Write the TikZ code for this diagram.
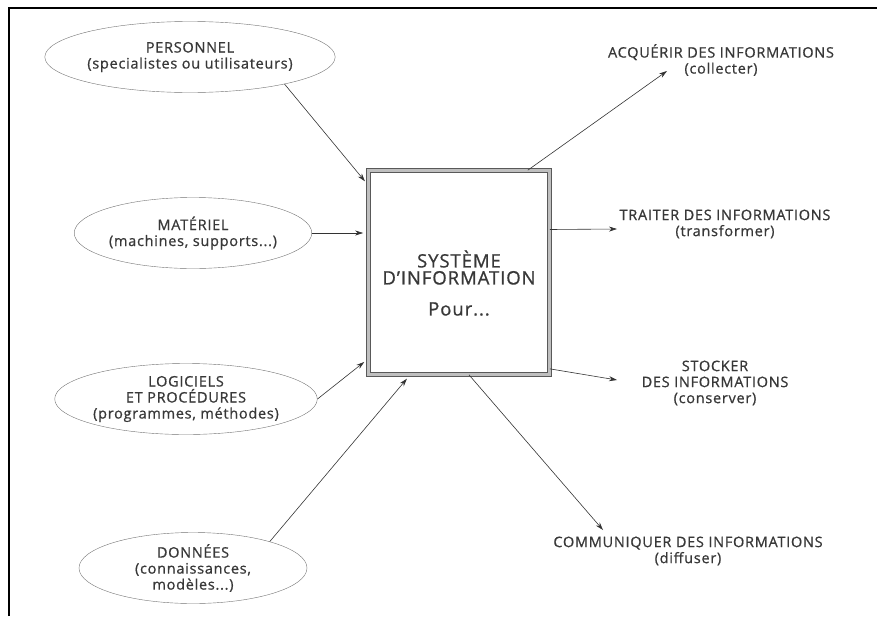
\documentclass[tikz,border=0pt]{standalone}
\usepackage{fontspec}
\setmainfont{Open Sans}[LetterSpace=5,FakeBold=0.8]
\usetikzlibrary{shapes.geometric,arrows.meta,calc}

\begin{document}
\begin{tikzpicture}
[x=1pt,y=-1pt,%
  every node/.style={align=center,text=black!78,font=\fontsize{14.5}{16}\selectfont},%
  ressource/.style={ellipse,draw=black!55,thin,minimum width=228pt,minimum height=71pt,inner sep=0pt},%
  systeme/.style={rectangle,draw=black!65,line width=0.7pt,double=black!25,double distance=3.5pt,%
    minimum width=181pt,minimum height=204pt,font=\fontsize{18.5}{17}\selectfont},%
  fonction/.style={inner sep=0pt},%
  entree/.style={-{Stealth[length=8pt,width=5pt]},draw=black!80,semithick,shorten >=5pt},%
  sortie/.style={-{Stealth[length=8pt,width=5pt]},draw=black!80,semithick}]
\useasboundingbox (0,0) rectangle (877,616);
\draw[line width=2.2pt] (9,616) -- (9,8) -- (877,8);

% ressources
\node[ressource] (personnel) at (190,57) {PERSONNEL\\(specialistes ou utilisateurs)};
\node[ressource] (materiel) at (193,233) {MATÉRIEL\\(machines, supports...)};
\node[ressource] (logiciels) at (186,399) {LOGICIELS\\ET PROCÉDURES\\(programmes, méthodes)};
\node[ressource] (donnees) at (193,568) {DONNÉES\\(connaissances,\\modèles...)};

% systeme
\node[systeme] (si) at (459,272.5) {\mbox{}\\[20pt]SYSTÈME\\D'INFORMATION\\[14pt]Pour...};

% fonctions
\node[fonction] (acquerir) at (721,60) {ACQUÉRIR DES INFORMATIONS\\(collecter)};
\node[fonction] (traiter) at (725,224) {TRAITER DES INFORMATIONS\\(transformer)};
\node[fonction] (stocker) at (715,383) {STOCKER\\DES INFORMATIONS\\(conserver)};
\node[fonction] (communiquer) at (688,551) {COMMUNIQUER DES INFORMATIONS\\(diffuser)};

\draw[entree] (personnel.-16) -- ($(si.north west)+(0,15)$);
\draw[entree] (materiel.east) -- (materiel.east -| si.west);
\draw[entree] (logiciels.east) -- ($(si.south west)+(0,-16)$);
\draw[entree] (donnees.19) -- ($(si.south west)+(42,0)$);

\draw[sortie] ($(si.north east)+(-22,0)$) -- ($(acquerir.center)+(-54,11)$);
\draw[sortie] ($(si.east)+(0,-43)$) -- ($(traiter.center)+(-108,5)$);
\draw[sortie] ($(si.south east)+(0,-6)$) -- ($(stocker.center)+(-98,-3)$);
\draw[sortie] ($(si.south)+(10,0)$) -- ($(communiquer.center)+(-85,-21)$);
\end{tikzpicture}
\end{document}
